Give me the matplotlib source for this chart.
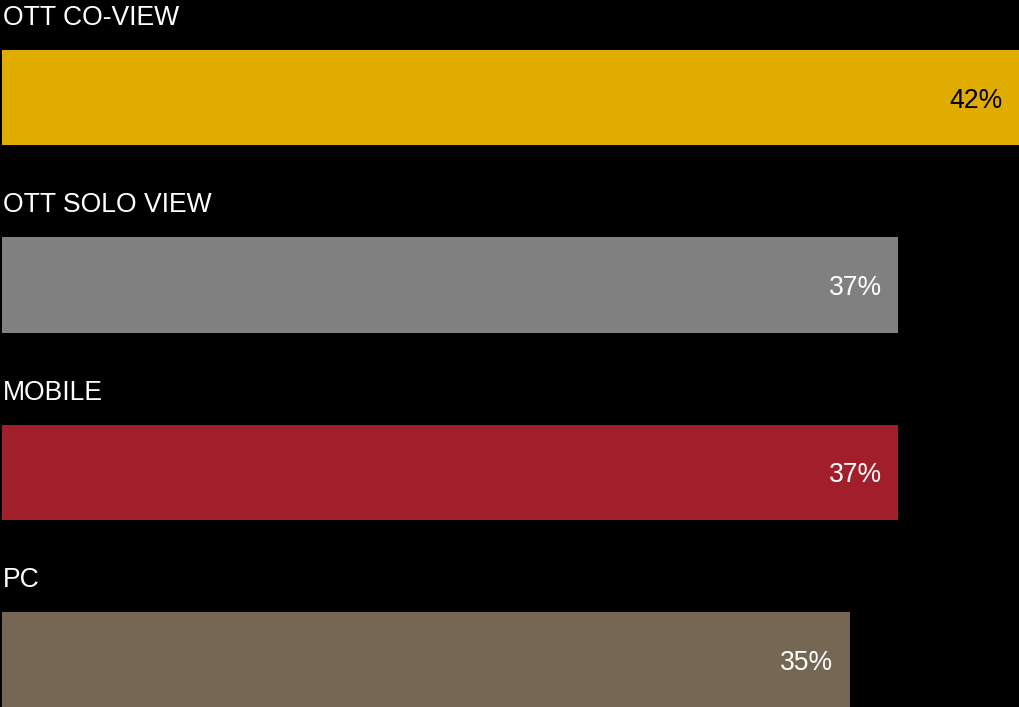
import matplotlib.pyplot as plt

categories = ['OTT CO-VIEW', 'OTT SOLO VIEW', 'MOBILE', 'PC']
values = [42, 37, 37, 35]
bar_colors = ['#E1AC00', '#808080', '#A11F2B', '#766754']
value_text_colors = ['black', 'white', 'white', 'white']

plt.rcParams['font.family'] = ['Liberation Sans', 'DejaVu Sans']

fig = plt.figure(figsize=(10.19, 7.07), dpi=100, facecolor='black')
ax = fig.add_axes([0, 0, 1, 1])
ax.set_facecolor('black')

# pixel scale: 42% spans from px 2 to px 1019
px_per_unit = 1017 / 42
row_px = 187.5
bar_h = 0.507
ypos = list(range(len(categories)))

ax.barh(ypos, values, height=bar_h, color=bar_colors, left=0)

fs = 26.5 * 72 / 100
for i, (cat, v) in enumerate(zip(categories, values)):
    ax.text(0.04, i - 0.387, cat, color='white', fontsize=fs,
            ha='left', va='baseline')
    ax.text(v - 16 / px_per_unit, i + 3 / row_px, f'{v}%',
            color=value_text_colors[i], fontsize=fs, ha='right', va='center')

ax.set_xlim(-2 / px_per_unit, 42)
ax.set_ylim(3 + 47 / row_px, -97.5 / row_px)
ax.axis('off')

fig.savefig('out.png', dpi=100, facecolor='black')
